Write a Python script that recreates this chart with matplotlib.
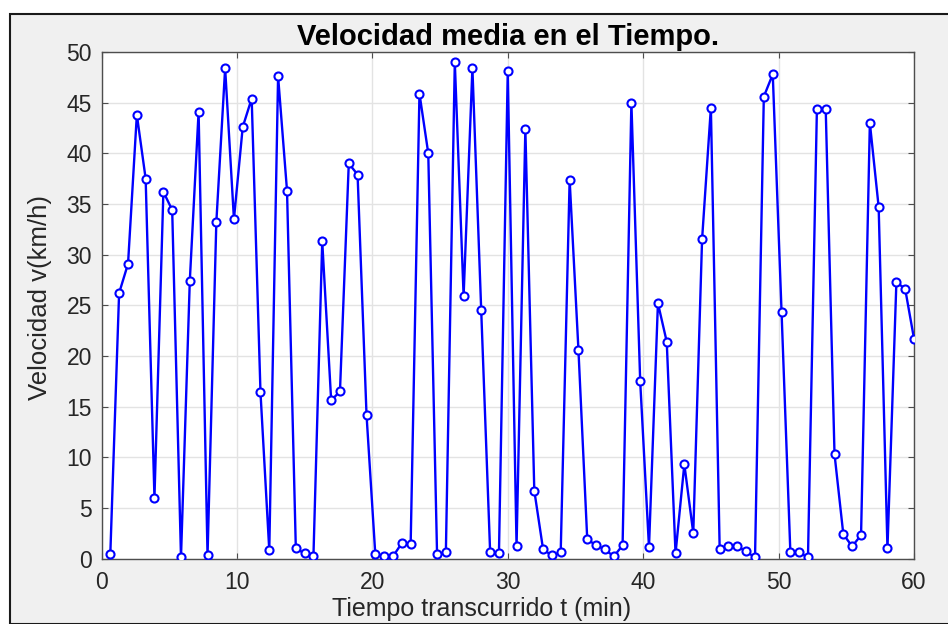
import matplotlib
matplotlib.use("Agg")
import matplotlib.pyplot as plt
from matplotlib.patches import Rectangle

# =============== DATOS ===============

# tiempo transcurrido (min), una muestra cada ~39 s
tiempo = [0.65, 1.30, 1.96, 2.61, 3.26, 3.91, 4.57, 5.22, 5.87, 6.52,
          7.17, 7.83, 8.48, 9.13, 9.78, 10.43, 11.09, 11.74, 12.39, 13.04,
          13.70, 14.35, 15.00, 15.65, 16.30, 16.96, 17.61, 18.26, 18.91, 19.57,
          20.22, 20.87, 21.52, 22.17, 22.83, 23.48, 24.13, 24.78, 25.43, 26.09,
          26.74, 27.39, 28.04, 28.70, 29.35, 30.00, 30.65, 31.30, 31.96, 32.61,
          33.26, 33.91, 34.57, 35.22, 35.87, 36.52, 37.17, 37.83, 38.48, 39.13,
          39.78, 40.43, 41.09, 41.74, 42.39, 43.04, 43.70, 44.35, 45.00, 45.65,
          46.30, 46.96, 47.61, 48.26, 48.91, 49.57, 50.22, 50.87, 51.52, 52.17,
          52.83, 53.48, 54.13, 54.78, 55.43, 56.09, 56.74, 57.39, 58.04, 58.70,
          59.35, 60.00]

# velocidad media (km/h)
velocidad = [0.4, 26.2, 29.1, 43.8, 37.5, 6.0, 36.2, 34.4, 0.1, 27.4,
             44.1, 0.3, 33.2, 48.4, 33.5, 42.6, 45.4, 16.4, 0.8, 47.6,
             36.3, 1.0, 0.5, 0.2, 31.3, 15.6, 16.5, 39.0, 37.9, 14.2,
             0.4, 0.2, 0.2, 1.5, 1.4, 45.9, 40.0, 0.4, 0.6, 49.0,
             25.9, 48.4, 24.5, 0.6, 0.5, 48.1, 1.2, 42.4, 6.7, 0.9,
             0.3, 0.6, 37.4, 20.6, 1.9, 1.3, 0.9, 0.2, 1.3, 45.0,
             17.5, 1.1, 25.2, 21.4, 0.5, 9.3, 2.5, 31.5, 44.5, 0.9,
             1.2, 1.2, 0.7, 0.1, 45.6, 47.8, 24.3, 0.6, 0.6, 0.1,
             44.4, 44.4, 10.3, 2.4, 1.2, 2.3, 43.0, 34.7, 1.0, 27.3,
             26.6, 21.7]

x_ticks = [0, 10, 20, 30, 40, 50, 60]
y_ticks = [0, 5, 10, 15, 20, 25, 30, 35, 40, 45, 50]

# =============== GRAFICO ===============

plt.rcParams["font.family"] = ["Liberation Sans", "DejaVu Sans"]

W, H = 948, 624
fig = plt.figure(figsize=(W / 100, H / 100), dpi=100, facecolor="white")

# fondo gris de la ventana con marco oscuro
marco = Rectangle((10 / W, 0), 1.0, 1 - 14 / H, transform=fig.transFigure,
                  facecolor="#F0F0F0", edgecolor="#1a1a1a", linewidth=1.5,
                  zorder=-10)
fig.patches.append(marco)

ax = fig.add_axes([101.5 / W, 1 - 558.5 / H, (914 - 101.5) / W, (558.5 - 52) / H])
ax.set_facecolor("white")

ax.plot(tiempo, velocidad, color="#0000FF", linewidth=1.7, marker="o",
        markersize=5.8, markerfacecolor="white", markeredgecolor="#0000FF",
        markeredgewidth=1.5, zorder=3)

ax.set_xlim(0, 60)
ax.set_ylim(0, 50)
ax.set_xticks(x_ticks)
ax.set_yticks(y_ticks)

ax.grid(True, color="#E3E3E3", linewidth=1.0)
ax.set_axisbelow(True)
for s in ax.spines.values():
    s.set_color("#4D4D4D")
    s.set_linewidth(1.0)
ax.tick_params(direction="in", length=4, width=0.8, color="#4D4D4D",
               labelsize=16.5, labelcolor="#262626", top=True, right=True,
               labeltop=False, labelright=False)
ax.tick_params(axis="x", pad=9)
ax.tick_params(axis="y", pad=7)

ax.set_title("Velocidad media en el Tiempo.", fontsize=21, fontweight="bold",
             color="black", pad=5)
ax.set_xlabel("Tiempo transcurrido t (min)", fontsize=18, color="#262626")
ax.set_ylabel("Velocidad v(km/h)", fontsize=18.5, color="#262626")
ax.xaxis.set_label_coords(0.468, -0.076)
ax.yaxis.set_label_coords(-0.061, 0.516)

fig.savefig("out.png", dpi=100, facecolor=fig.get_facecolor())
